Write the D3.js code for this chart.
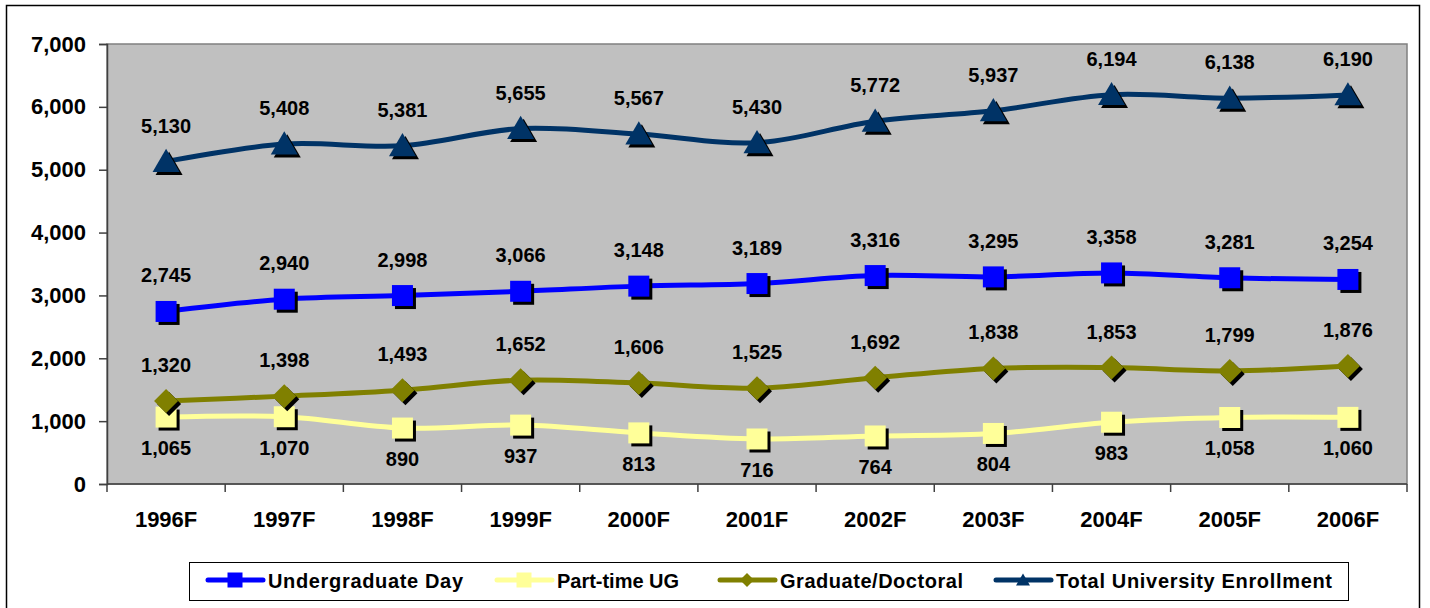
<!DOCTYPE html>
<html>
<head>
<meta charset="utf-8">
<script src="https://cdn.jsdelivr.net/npm/d3@7"></script>
<style>
  html, body { margin: 0; padding: 0; background: #fff; }
  svg { display: block; font-family: Arial, "Liberation Sans", sans-serif; font-weight: bold; }
</style>
</head>
<body>
<div id="chart"></div>
<script>
// --- data ---
const years = ["1996F", "1997F", "1998F", "1999F", "2000F", "2001F", "2002F", "2003F", "2004F", "2005F", "2006F"];
const undergradDay = [2745, 2940, 2998, 3066, 3148, 3189, 3316, 3295, 3358, 3281, 3254];
const partTimeUG = [1065, 1070, 890, 937, 813, 716, 764, 804, 983, 1058, 1060];
const gradDoctoral = [1320, 1398, 1493, 1652, 1606, 1525, 1692, 1838, 1853, 1799, 1876];
const totalEnrollment = [5130, 5408, 5381, 5655, 5567, 5430, 5772, 5937, 6194, 6138, 6190];
const yTicks = [0, 1000, 2000, 3000, 4000, 5000, 6000, 7000];

const series = [
  { name: "Undergraduate Day", values: undergradDay, color: "#0000FF", marker: "square", labelPos: "above", legendW: 195 },
  { name: "Part-time UG", values: partTimeUG, color: "#FFFF99", marker: "square", labelPos: "below", legendW: 122 },
  { name: "Graduate/Doctoral", values: gradDoctoral, color: "#808000", marker: "diamond", labelPos: "above", legendW: 183 },
  { name: "Total University Enrollment", values: totalEnrollment, color: "#003366", marker: "triangle", labelPos: "above", legendW: 276 }
];

// --- layout ---
const W = 1430, H = 608;
const plot = { left: 107, top: 44, right: 1407, bottom: 484 };

const svg = d3.select("#chart").append("svg")
  .attr("width", W).attr("height", H);

// outer frame
svg.append("rect")
  .attr("x", 6.5).attr("y", 5.5).attr("width", 1413).attr("height", 620)
  .attr("fill", "#fff").attr("stroke", "#000").attr("stroke-width", 1.5);

const x = d3.scaleBand().domain(years).range([plot.left, plot.right]);
const y = d3.scaleLinear().domain([0, 7000]).range([plot.bottom, plot.top]);
const cx = d => x(d) + x.bandwidth() / 2;

// plot background
svg.append("rect")
  .attr("x", plot.left).attr("y", plot.top)
  .attr("width", plot.right - plot.left).attr("height", plot.bottom - plot.top)
  .attr("fill", "#C0C0C0").attr("stroke", "#808080").attr("stroke-width", 1.5);

// y axis
const yAxis = svg.append("g")
  .attr("transform", `translate(${plot.left},0)`)
  .call(d3.axisLeft(y).tickValues(yTicks).tickFormat(d3.format(",")).tickSize(8).tickPadding(13));
yAxis.select(".domain").attr("stroke", "#404040").attr("stroke-width", 1.5);
yAxis.selectAll(".tick line").attr("stroke", "#404040").attr("stroke-width", 1.5);
yAxis.selectAll("text").attr("font-size", 22).attr("fill", "#000")
  .attr("font-family", "Arial, 'Liberation Sans', sans-serif").attr("font-weight", "bold");

// x axis (ticks between categories)
const xAxisG = svg.append("g").attr("transform", `translate(0,${plot.bottom})`);
xAxisG.append("line")
  .attr("x1", plot.left).attr("x2", plot.right)
  .attr("stroke", "#404040").attr("stroke-width", 1.5);
const bounds = years.map(d => x(d)).concat([plot.right]);
xAxisG.selectAll("line.tick").data(bounds).join("line")
  .attr("class", "tick")
  .attr("x1", d => d).attr("x2", d => d).attr("y1", 0).attr("y2", 8)
  .attr("stroke", "#404040").attr("stroke-width", 1.5);
xAxisG.selectAll("text").data(years).join("text")
  .attr("x", d => cx(d)).attr("y", 43)
  .attr("text-anchor", "middle").attr("font-size", 22).attr("fill", "#000")
  .text(d => d);

// marker shapes
function markerPath(type, s) {
  if (type === "square") return `M${-s / 2},${-s / 2}h${s}v${s}h${-s}Z`;
  if (type === "diamond") return `M0,${-s / 2}L${s / 2},0L0,${s / 2}L${-s / 2},0Z`;
  // triangle
  const h = s * 0.86;
  return `M0,${-h * 0.55}L${s / 2},${h * 0.45}L${-s / 2},${h * 0.45}Z`;
}
const markerSize = { square: 21, diamond: 24, triangle: 27 };

const line = d3.line()
  .x((d, i) => cx(years[i]))
  .y(d => y(d))
  .curve(d3.curveCatmullRom.alpha(0.5));

const fmt = d3.format(",");

series.forEach(s => {
  const g = svg.append("g");
  g.append("path")
    .attr("d", line(s.values))
    .attr("fill", "none")
    .attr("stroke", s.color)
    .attr("stroke-width", 5);

  const pts = g.selectAll("g.pt").data(s.values).join("g")
    .attr("class", "pt")
    .attr("transform", (d, i) => `translate(${cx(years[i])},${y(d)})`);
  pts.append("path")
    .attr("d", markerPath(s.marker, markerSize[s.marker]))
    .attr("transform", "translate(3,3)")
    .attr("fill", "#000");
  pts.append("path")
    .attr("d", markerPath(s.marker, markerSize[s.marker]))
    .attr("fill", s.color);
});

// data labels on top
series.forEach(s => {
  svg.append("g").selectAll("text").data(s.values).join("text")
    .attr("x", (d, i) => cx(years[i]))
    .attr("y", d => y(d) + (s.labelPos === "above" ? -29 : 38))
    .attr("text-anchor", "middle")
    .attr("font-size", 20)
    .attr("fill", "#000")
    .text(d => fmt(d));
});

// legend
const legend = svg.append("g");
legend.append("rect")
  .attr("x", 189.5).attr("y", 562.5).attr("width", 1159).attr("height", 38)
  .attr("fill", "#fff").attr("stroke", "#000").attr("stroke-width", 1);

const legendX = [208, 497, 720, 996];
series.forEach((s, i) => {
  const lx = legendX[i];
  const ly = 580;
  const item = legend.append("g");
  item.append("line")
    .attr("x1", lx).attr("x2", lx + 55).attr("y1", ly).attr("y2", ly)
    .attr("stroke", s.color).attr("stroke-width", 5).attr("stroke-linecap", "round");
  item.append("path")
    .attr("d", markerPath(s.marker, s.marker === "square" ? 15 : 14))
    .attr("transform", `translate(${lx + 27},${ly})`)
    .attr("fill", s.color);
  item.append("text")
    .attr("x", lx + 60).attr("y", ly + 7.5)
    .attr("font-size", 20).attr("fill", "#000")
    .attr("textLength", s.legendW).attr("lengthAdjust", "spacing")
    .text(s.name);
});
</script>
</body>
</html>
